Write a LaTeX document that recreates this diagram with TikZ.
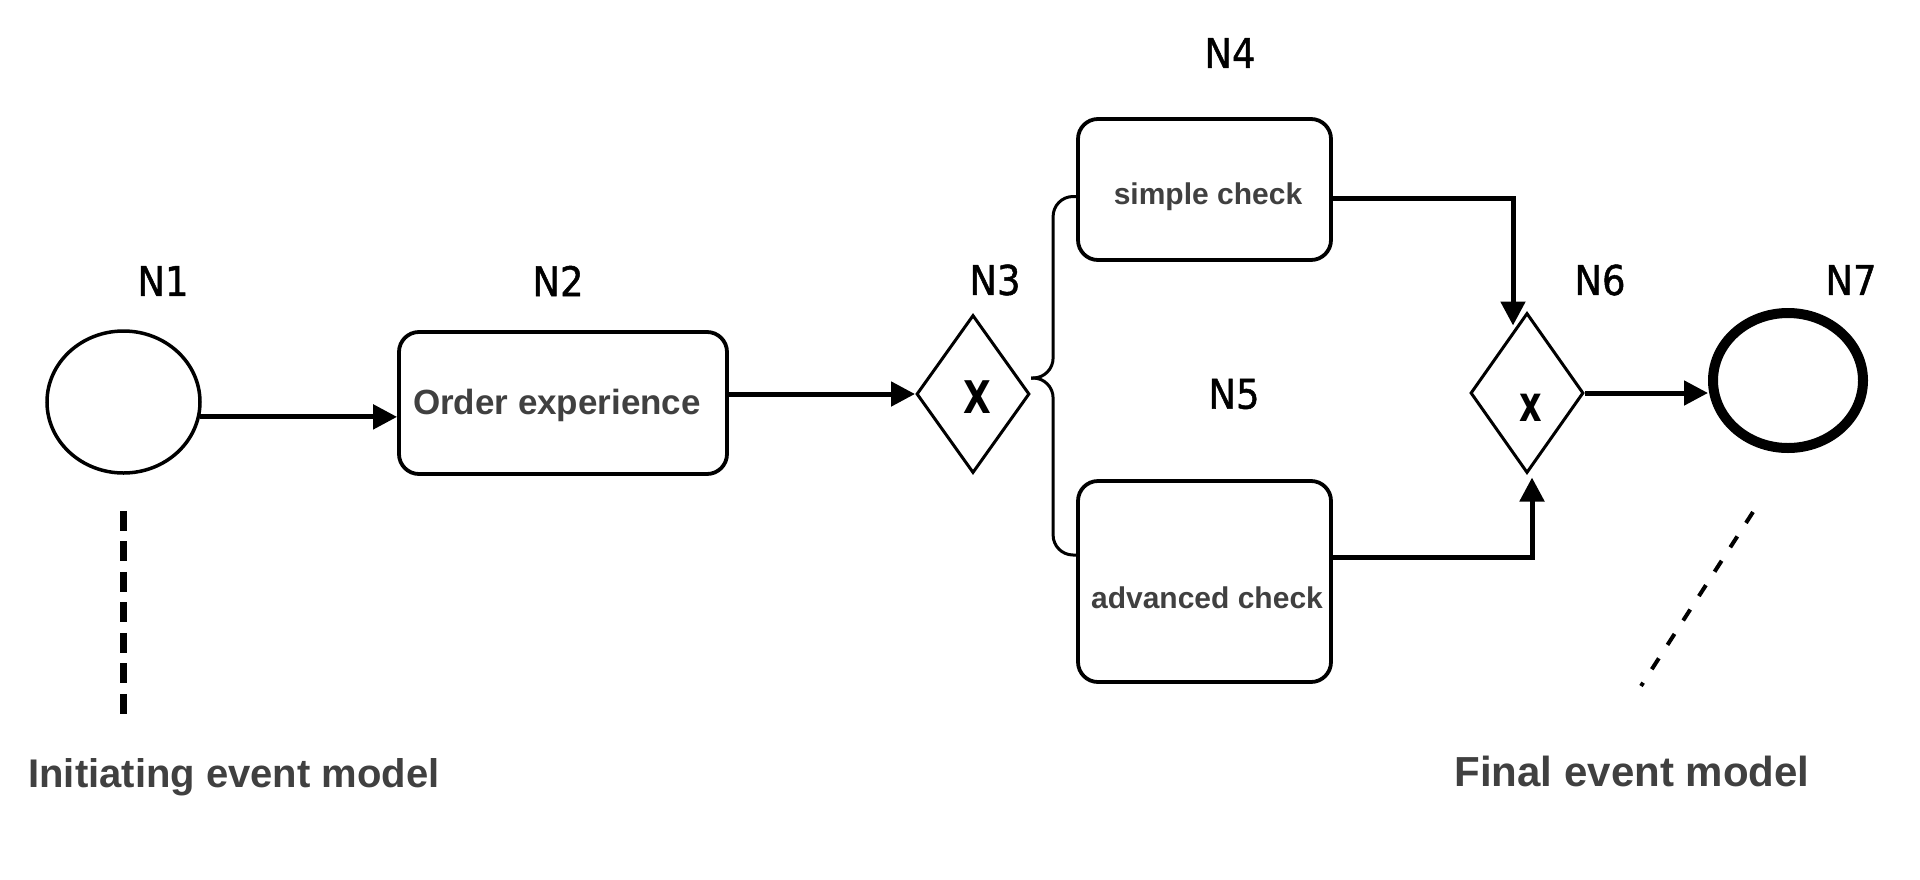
\documentclass[tikz,border=0pt]{standalone}
\usepackage{fontspec}
\setmainfont{Liberation Sans}
\newfontfamily\lblfont{DejaVu Sans}[FakeStretch=0.9,FakeBold=1.2]
\newfontfamily\gatefont{DejaVu Sans}[FakeStretch=0.8]
\newfontfamily\gatefontb{DejaVu Sans}[FakeStretch=0.7]
\usetikzlibrary{shapes.geometric,arrows.meta,calc}
\definecolor{txtgray}{HTML}{404040}
\tikzset{
  task/.style={draw=black, line width=3.8pt, rounded corners=20pt, inner sep=0pt},
  tasktext/.style={inner sep=0pt, text=txtgray, font=\bfseries\fontsize{30}{36}\selectfont},
  gate/.style={diamond, draw=black, line width=3pt, inner sep=0pt},
  event/.style={ellipse, draw=black, inner sep=0pt},
  flow/.style={line width=5pt, -{Triangle[length=24pt,width=24pt]}},
  link/.style={line width=3pt},
  nlabel/.style={inner sep=0pt, font=\lblfont\fontsize{41}{41}\selectfont},
  caption/.style={inner sep=0pt, text=txtgray, font=\bfseries\fontsize{40}{48}\selectfont},
  annotA/.style={line width=7pt, dash pattern=on 20pt off 10.5pt},
  annotB/.style={line width=4pt, dash pattern=on 13pt off 16pt}
}
\begin{document}
\begin{tikzpicture}[x=1pt,y=-1pt]
\path[fill=white,use as bounding box] (0,0) rectangle (1920,879);

% nodes
\node[event, line width=3.5pt, minimum width=153pt, minimum height=142pt] (N1) at (123.5,402) {};
\node[task, minimum width=328pt, minimum height=142pt] (N2) at (563,403) {};
\node[tasktext, font=\bfseries\fontsize{35}{42}\selectfont] (T2) at (557,405.5) {Order experience};
\node[gate, minimum width=113pt, minimum height=158pt] (N3) at (973,394) {};
\node[inner sep=0pt, font=\gatefont\bfseries\fontsize{45}{45}\selectfont] (X3) at (977,397) {X};
\node[task, minimum width=253pt, minimum height=141pt] (N4) at (1204.5,189.5) {};
\node[tasktext] (T4) at (1208,197) {simple check};
\node[task, minimum width=253pt, minimum height=201pt] (N5) at (1204.5,581.5) {};
\node[tasktext] (T5) at (1207,598) {advanced check};
\node[gate, minimum width=113pt, minimum height=160pt] (N6) at (1527,393) {};
\node[inner sep=0pt, font=\gatefontb\bfseries\fontsize{50}{50}\selectfont] (X6) at (1531,408) {x};
\node[event, line width=10pt, minimum width=150pt, minimum height=135pt] (N7) at (1788,380.5) {};

% labels
\node[nlabel] (L1) at (163,281) {N1};
\node[nlabel] (L2) at (558,281) {N2};
\node[nlabel] (L3) at (995,280) {N3};
\node[nlabel] (L4) at (1230,53) {N4};
\node[nlabel] (L5) at (1234,394) {N5};
\node[nlabel] (L6) at (1600,280) {N6};
\node[nlabel] (L7) at (1851,280) {N7};

% captions
\node[caption] (C1) at (234,777) {Initiating event model};
\node[caption, font=\bfseries\fontsize{42}{50}\selectfont] (C2) at (1632,771) {Final event model};

% connectors
\draw[flow] (N1.-11) -- (N1.-11 -| N2.west);
\draw[flow] (N3.west -| N2.east) -- (N3.west);
\coordinate (brace) at ($(N3.east)+(0,-16)$);
\draw[link, rounded corners=20pt] (brace) -| ($(N4.west)+(-23,7)$) -- ($(N4.west)+(0,7)$);
\draw[link, rounded corners=20pt] (brace) -| ($(N5.west)+(-23,-26.5)$) -- ($(N5.west)+(0,-26.5)$);
\draw[flow] ($(N4.east)+(0,8.5)$) -| ($(N6.north)+(-14,14)$);
\draw[flow] ($(N5.east)+(0,-24.5)$) -| ($(N6.south)+(5,3)$);
\draw[flow] (N6.east) -- (N6.east -| N7.west);

% annotation lines
\coordinate (d1a) at ($(N1.south)+(0,36)$);
\coordinate (d1b) at ($(N1.south)+(0,239)$);
\draw[annotA] (d1a) -- (d1b);
\coordinate (d7a) at (1753,512);
\coordinate (d7b) at (1641,686);
\draw[annotB] (d7a) -- (d7b);
\end{tikzpicture}
\end{document}
